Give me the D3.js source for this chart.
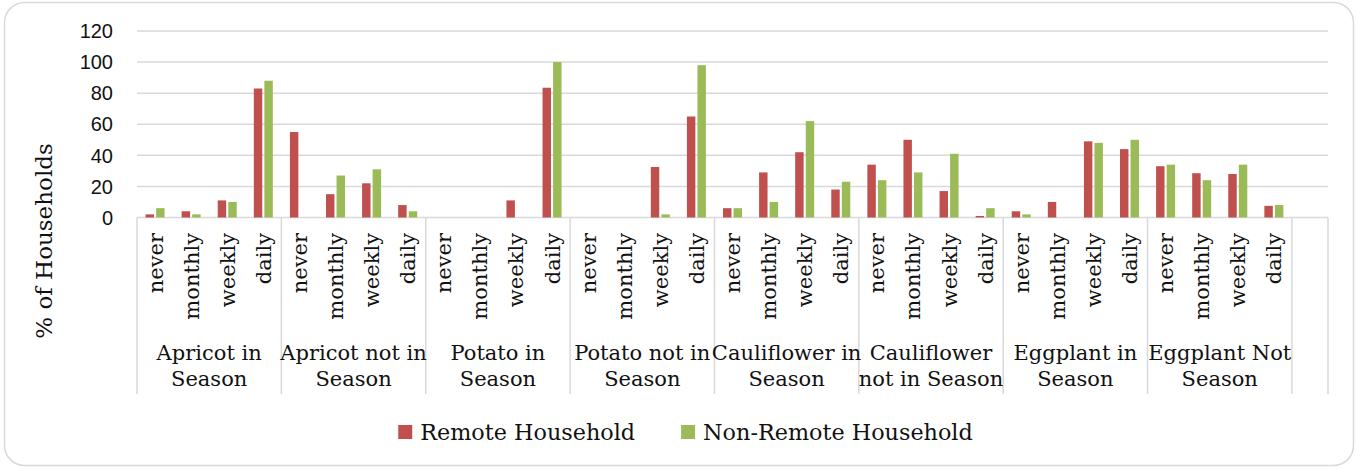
<!DOCTYPE html>
<html>
<head>
<meta charset="utf-8">
<script src="https://cdnjs.cloudflare.com/ajax/libs/d3/7.8.5/d3.min.js"></script>
<style>
  body { margin: 0; background: #fff; }
  svg { display: block; }
</style>
</head>
<body>
<div class="chart"></div>
<script>
// chart values
var frequencies = ["never", "monthly", "weekly", "daily"];
var groupLabels = [
  ["Apricot in", "Season"],
  ["Apricot not in", "Season"],
  ["Potato in", "Season"],
  ["Potato not in", "Season"],
  ["Cauliflower in", "Season"],
  ["Cauliflower", "not in Season"],
  ["Eggplant in", "Season"],
  ["Eggplant Not", "Season"]
];
var seriesNames = ["Remote Household", "Non-Remote Household"];
var remote = [2, 4, 11, 83, 55, 15, 22, 8, 0, 0, 11, 83.5, 0, 0, 32.5, 65,
  6, 29, 42, 18, 34, 50, 17, 1, 4, 10, 49, 44, 33, 28.5, 28, 7.5];
var nonRemote = [6, 2, 10, 88, 0, 27, 31, 4, 0, 0, 0, 100, 0, 0, 2, 98,
  6, 10, 62, 23, 24, 29, 41, 6, 2, 0, 48, 50, 34, 24, 34, 8];
var yTicks = [0, 20, 40, 60, 80, 100, 120];
var colors = ["#C0504D", "#9BBB59"];

var svgWidth = 1356;
var svgHeight = 469;

var plot = { left: 137, right: 1328, top: 31, bottom: 217.5 };
var gridColor = "#d9d9d9";

var svg = d3.select(".chart")
  .append("svg")
  .attr("width", svgWidth)
  .attr("height", svgHeight);

// rounded frame
svg.append("rect")
  .attr("x", 4.5)
  .attr("y", 2.5)
  .attr("width", 1349)
  .attr("height", 463)
  .attr("rx", 20)
  .attr("fill", "#fff")
  .attr("stroke", gridColor)
  .attr("stroke-width", 1.5);

// build flat rows (one empty slot at the end, as in the source)
var rows = [];
groupLabels.forEach(function(g, gi) {
  frequencies.forEach(function(f, fi) {
    var i = gi * 4 + fi;
    rows.push({ key: gi + "|" + f, freq: f, values: [remote[i], nonRemote[i]] });
  });
});
var keys = rows.map(d => d.key).concat(["blank"]);

var x0 = d3.scaleBand()
  .domain(keys)
  .range([plot.left, plot.right]);

var clusterWidth = 19;
var x1 = d3.scaleBand()
  .domain([0, 1])
  .range([0, clusterWidth])
  .paddingInner(0.2);

var y = d3.scaleLinear()
  .domain([0, 120])
  .range([plot.bottom, plot.top]);

// gridlines
svg.append("g")
  .selectAll("line")
  .data(yTicks)
  .enter()
  .append("line")
  .attr("x1", plot.left)
  .attr("x2", plot.right)
  .attr("y1", d => y(d))
  .attr("y2", d => y(d))
  .attr("stroke", gridColor)
  .attr("stroke-width", 1.5);

// y tick labels
svg.append("g")
  .selectAll("text")
  .data(yTicks)
  .enter()
  .append("text")
  .attr("x", 113)
  .attr("y", d => y(d))
  .attr("dy", "0.36em")
  .attr("text-anchor", "end")
  .style("font-family", "'Liberation Sans', Arial, sans-serif")
  .style("font-size", "20px")
  .attr("fill", "#111")
  .text(d => d);

// bars
var barGroups = svg.append("g")
  .selectAll("g")
  .data(rows)
  .enter()
  .append("g")
  .attr("transform", d => `translate(${x0(d.key) + (x0.bandwidth() - clusterWidth) / 2}, 0)`);

barGroups.selectAll("rect")
  .data(d => d.values.map((v, i) => ({ v: v, i: i })))
  .enter()
  .append("rect")
  .attr("x", d => x1(d.i))
  .attr("width", x1.bandwidth())
  .attr("y", d => y(d.v))
  .attr("height", d => y(0) - y(d.v))
  .attr("fill", d => colors[d.i]);

// group divider lines
var step = x0.step();
var dividers = d3.range(groupLabels.length + 1).map(k => plot.left + k * 4 * step).concat([plot.right]);
svg.append("g")
  .selectAll("line")
  .data(dividers)
  .enter()
  .append("line")
  .attr("x1", d => d)
  .attr("x2", d => d)
  .attr("y1", plot.bottom)
  .attr("y2", 394)
  .attr("stroke", gridColor)
  .attr("stroke-width", 1.5);

// category labels (rotated)
svg.append("g")
  .selectAll("text")
  .data(rows)
  .enter()
  .append("text")
  .attr("transform", d => `translate(${x0(d.key) + x0.bandwidth() / 2 + 7.5}, 233) rotate(-90)`)
  .attr("text-anchor", "end")
  .style("font-family", "'DejaVu Serif', serif")
  .style("font-size", "21px")
  .attr("fill", "#111")
  .text(d => d.freq);

// group labels
var groupText = svg.append("g")
  .selectAll("text")
  .data(groupLabels)
  .enter()
  .append("text")
  .attr("text-anchor", "middle")
  .style("font-family", "'DejaVu Serif', serif")
  .style("font-size", "21px")
  .attr("fill", "#111");

groupText.selectAll("tspan")
  .data((d, gi) => d.map((line, li) => ({ line: line, li: li, gi: gi })))
  .enter()
  .append("tspan")
  .attr("x", d => plot.left + (d.gi * 4 + 2) * step)
  .attr("y", d => 359.5 + d.li * 26.5)
  .text(d => d.line);

// y axis title
svg.append("text")
  .attr("transform", "translate(52, 241) rotate(-90)")
  .attr("text-anchor", "middle")
  .style("font-family", "'DejaVu Serif', serif")
  .style("font-size", "23px")
  .attr("fill", "#111")
  .text("% of Households");

// legend
var legend = svg.append("g");
var lx = 0;
seriesNames.forEach(function(name, i) {
  var item = legend.append("g").attr("transform", `translate(${lx}, 0)`);
  item.append("rect")
    .attr("x", 0)
    .attr("y", 425)
    .attr("width", 14)
    .attr("height", 14)
    .attr("fill", colors[i]);
  var t = item.append("text")
    .attr("x", 22)
    .attr("y", 440)
    .style("font-family", "'DejaVu Serif', serif")
    .style("font-size", "22.3px")
    .attr("fill", "#111")
    .text(name);
  lx += 22 + t.node().getComputedTextLength() + 46;
});
var legendWidth = lx - 46;
legend.attr("transform", `translate(${685.5 - legendWidth / 2}, 0)`);
</script>
</body>
</html>
